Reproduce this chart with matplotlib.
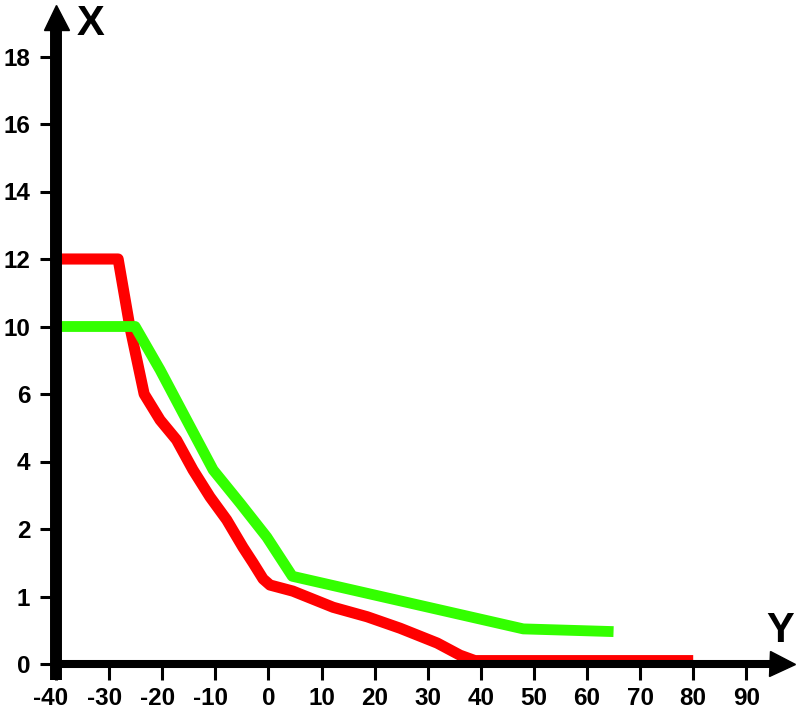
import numpy as np
import matplotlib
matplotlib.use("Agg")
import matplotlib.pyplot as plt
from matplotlib.transforms import ScaledTranslation

# ---- data ----
X_TICKS = [-40, -30, -20, -10, 0, 10, 20, 30, 40, 50, 60, 70, 80, 90]
Y_TICKS = [0, 1, 2, 4, 6, 10, 12, 14, 16, 18]

RED_X = [-40, -28.3, -26.1, -23.4, -20.4, -17.3, -14.2, -11.0, -7.85, -4.8, -2.9, -1.0,
         0.3, 4.6, 12.2, 18.6, 24.8, 31.8, 36.1, 38.9, 80]
RED_Y = [12, 12, 10, 6, 5.23, 4.64, 3.75, 2.95, 2.27, 1.73, 1.50, 1.26,
         1.17, 1.08, 0.84, 0.70, 0.53, 0.31, 0.13, 0.05, 0.05]

GREEN_X = [-40, -25.1, -20.4, -15.4, -10.4, -5.35, -0.3, 4.5, 48, 65]
GREEN_Y = [10, 10, 7.43, 5.23, 3.75, 2.77, 1.88, 1.30, 0.52, 0.48]

# ---- nonlinear (evenly spaced labels) y-scale ----
_vals = np.array([-2.0] + Y_TICKS + [20.0], dtype=float)
_idx = np.arange(-1, len(Y_TICKS) + 1, dtype=float)


def fwd(v):
    return np.interp(v, _vals, _idx)


def inv(i):
    return np.interp(i, _idx, _vals)


plt.rcParams['font.family'] = ['Liberation Sans', 'DejaVu Sans']
plt.rcParams['axes.unicode_minus'] = False

W, H = 800, 717
fig = plt.figure(figsize=(W / 100, H / 100), dpi=100)
ax_left, ax_bottom = 56, 664
ax = fig.add_axes([ax_left / W, (H - ax_bottom) / H, (W - ax_left) / W, ax_bottom / H])

ax.set_yscale('function', functions=(fwd, inv))
px_per_unit_x = 5.31
ax.set_xlim(-40, -40 + (W - ax_left) / px_per_unit_x)
px_per_idx = 67.5
ax.set_ylim(0, inv(ax_bottom / px_per_idx))

ax.plot(RED_X, RED_Y, color='#ff0000', lw=8, solid_capstyle='butt', zorder=2)
ax.plot(GREEN_X, GREEN_Y, color='#33ff00', lw=7.8, solid_capstyle='butt', zorder=2)

# axes styling
for s in ['top', 'right']:
    ax.spines[s].set_visible(False)
ax.spines['left'].set_linewidth(8.6)
ax.spines['bottom'].set_linewidth(5.8)
ax.spines['left'].set_capstyle('butt')
ax.spines['bottom'].set_capstyle('butt')
ax.spines['left'].set_bounds(inv(-16 / px_per_idx), inv((ax_bottom - 27) / px_per_idx))
ax.spines['bottom'].set_bounds(-40, -40 + (772 - ax_left) / px_per_unit_x)
ax.spines['left'].set_zorder(3)
ax.spines['bottom'].set_zorder(3)

# arrow heads
ax.plot([0], [1 - 17 / ax_bottom], marker='^', ms=18, color='k', mec='k',
        transform=ax.transAxes, clip_on=False, zorder=4)
ax.plot([(782 - ax_left) / (W - ax_left)], [0], marker='>', ms=18, color='k', mec='k',
        transform=ax.transAxes, clip_on=False, zorder=4)

ax.set_xticks(X_TICKS)
ax.set_xticklabels([str(v) for v in X_TICKS])
ax.set_yticks(Y_TICKS)
ax.set_yticklabels([str(v) for v in Y_TICKS])
ax.minorticks_off()
ax.yaxis.set_minor_locator(matplotlib.ticker.NullLocator())

ax.tick_params(axis='both', direction='out', length=11.5, width=2.2, color='k',
               labelsize=17.5, labelcolor='k')
ax.tick_params(axis='y', pad=7)
ax.tick_params(axis='x', pad=5)

for lab in ax.get_xticklabels() + ax.get_yticklabels():
    lab.set_fontweight('bold')

for lab, v in zip(ax.get_xticklabels(), X_TICKS):
    if v < 0:
        lab.set_transform(lab.get_transform() + ScaledTranslation(-0.05, 0, fig.dpi_scale_trans))

# axis names
fig.text(77 / W, 1 - 4 / H, 'X', fontsize=30, fontweight='bold', ha='left', va='top')
fig.text(766 / W, 1 - 611 / H, 'Y', fontsize=30, fontweight='bold', ha='left', va='top')

fig.savefig('out.png', dpi=100)
